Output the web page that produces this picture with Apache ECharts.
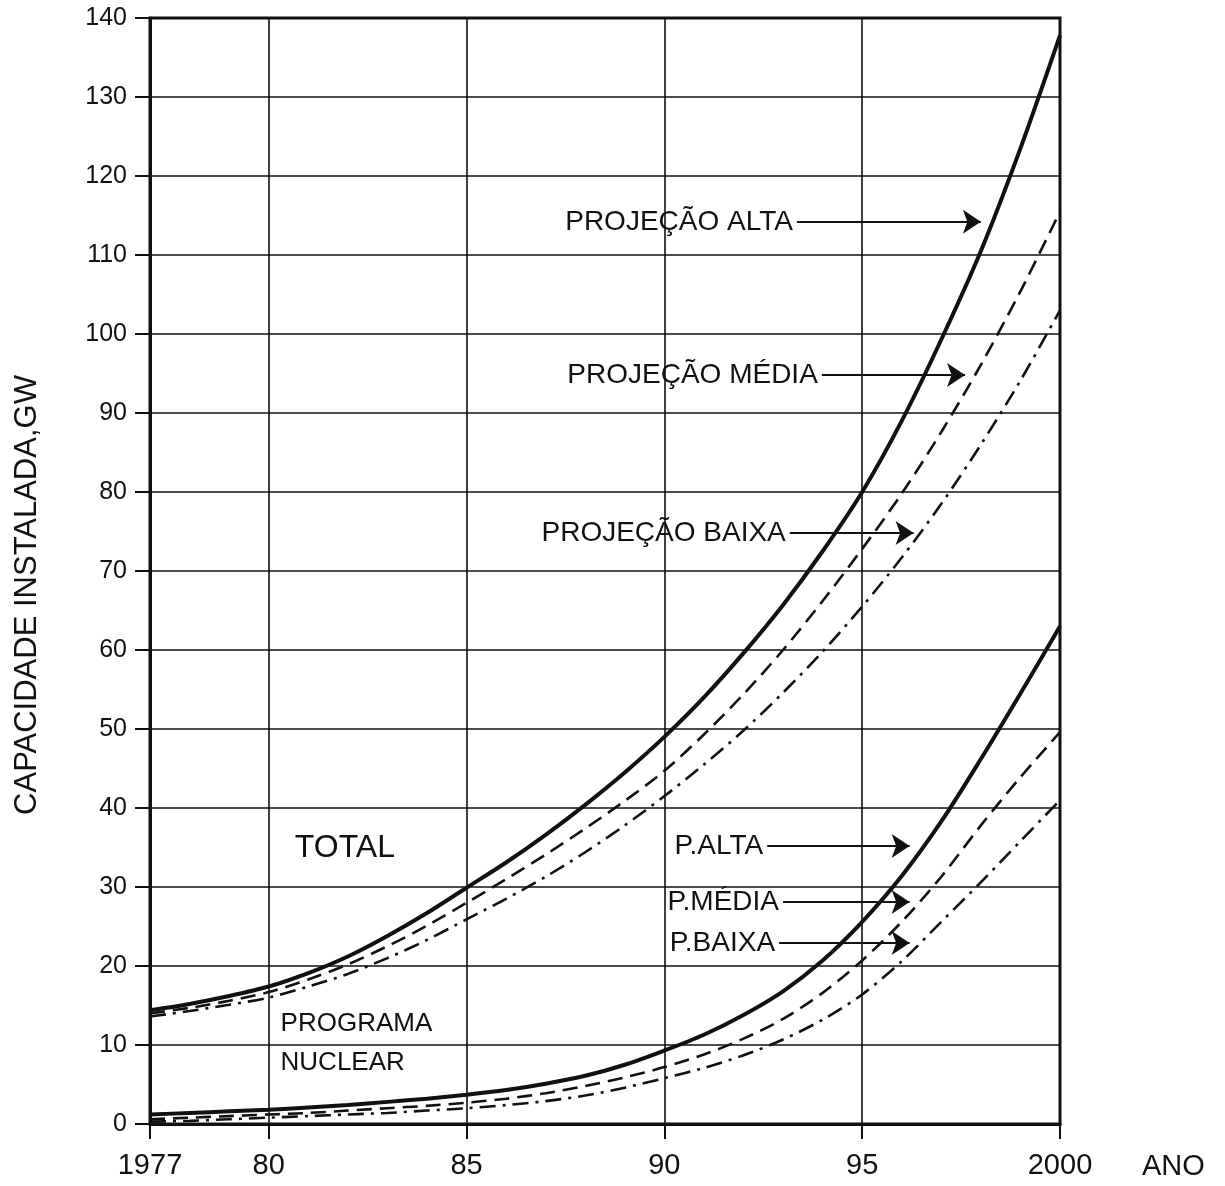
<!DOCTYPE html>
<html><head><meta charset="utf-8">
<script src="https://cdn.jsdelivr.net/npm/echarts@6/dist/echarts.min.js"></script>
<style>html,body{margin:0;padding:0;background:#fff}#c{width:1225px;height:1186px}</style>
</head><body><div id="c"></div>
<script>
// ---- data ----
const years = [1977,1978,1979,1980,1981,1982,1983,1984,1985,1986,1987,1988,1989,1990,1991,1992,1993,1994,1995,1996,1997,1998,1999,2000];
// TOTAL (GW)
const totalAlta  = [14.4,15.2,16.2,17.4,19.1,21.2,23.8,26.7,29.9,33.1,36.6,40.4,44.5,49.0,54.0,59.6,65.7,72.5,80.0,89.0,99.3,110.5,123.5,137.8];
const totalMedia = [14.0,14.7,15.6,16.7,18.3,20.2,22.5,25.1,28.0,31.0,34.1,37.4,40.9,44.7,49.3,54.4,60.0,66.2,72.8,79.8,87.6,96.1,105.4,115.5];
const totalBaixa = [13.6,14.3,15.1,16.0,17.4,19.0,21.0,23.3,25.9,28.5,31.3,34.4,37.8,41.5,45.5,49.8,54.6,59.8,65.5,71.7,78.5,86.0,94.1,103.0];
// PROGRAMA NUCLEAR (GW)
const nuclearAlta  = [1.2,1.4,1.6,1.8,2.1,2.4,2.8,3.2,3.7,4.3,5.1,6.1,7.5,9.3,11.3,13.8,16.8,20.7,25.6,31.4,38.3,46.2,54.5,63.0];
const nuclearMedia = [0.6,0.8,1.0,1.2,1.4,1.7,2.0,2.3,2.7,3.2,3.9,4.8,5.9,7.2,8.8,10.8,13.3,16.6,20.7,25.6,31.3,37.8,43.9,49.6];
const nuclearBaixa = [0.3,0.4,0.6,0.8,1.0,1.2,1.4,1.7,2.0,2.4,2.9,3.6,4.6,5.8,7.1,8.7,10.7,13.2,16.4,20.6,25.6,30.6,35.8,41.0];
// axis ticks
const xTickValues = [1977,1980,1985,1990,1995,2000];
const xTickLabels = ['1977','80','85','90','95','2000'];
const yMin = 0, yMax = 140, yStep = 10;

const INK = '#111';
const FONT = '"Liberation Sans", Arial, sans-serif';
const pairs = vals => years.map((y,i)=>[y, vals[i]]);

function arrow(label, y, x0, x1){
  return [
    {coord:[x0,y], symbol:'none', label:{formatter:label}},
    {coord:[x1,y], symbol:'arrow'}
  ];
}
function note(text, x, y, size){
  return {coord:[x,y], symbol:'circle', symbolSize:0,
    label:{show:true, formatter:text, position:'right', distance:0, fontSize:size, color:INK, fontFamily:FONT}};
}

const solid = {type:'solid', width:4, color:INK};
const dashed = {type:[15,8], width:2.6, color:INK};
const dashDot = {type:[16,7,3,7], width:2.6, color:INK};

function line(name, vals, style, extra){
  return Object.assign({
    name, type:'line', data:pairs(vals), smooth:0.3,
    showSymbol:false, symbol:'none', lineStyle:style, silent:true, z:3
  }, extra||{});
}

const chart = echarts.init(document.getElementById('c'), null, {renderer:'canvas'});
chart.setOption({
  animation:false,
  backgroundColor:'#fff',
  grid:{left:150, right:165, top:18, bottom:62, show:true, borderColor:INK, borderWidth:3, backgroundColor:'transparent'},
  xAxis:{
    type:'value', min:1977, max:2000,
    name:'ANO', nameLocation:'end', nameGap:82,
    nameTextStyle:{fontSize:29, color:INK, fontFamily:FONT, verticalAlign:'top', padding:[28,0,0,0]},
    axisLine:{show:true, onZero:false, lineStyle:{color:INK, width:3}},
    axisTick:{show:true, length:15, customValues:xTickValues, lineStyle:{color:INK, width:2}},
    axisLabel:{customValues:xTickValues, fontSize:29, color:INK, fontFamily:FONT, margin:27,
      formatter:v=>xTickLabels[xTickValues.indexOf(v)]},
    splitLine:{show:true, lineStyle:{color:INK, width:1.6}}
  },
  yAxis:{
    type:'value', min:yMin, max:yMax, interval:yStep,
    axisLine:{show:true, lineStyle:{color:INK, width:3}},
    axisTick:{show:true, length:15, lineStyle:{color:INK, width:2}},
    axisLabel:{fontSize:25, color:INK, fontFamily:FONT, margin:23},
    splitLine:{show:true, lineStyle:{color:INK, width:1.6}}
  },
  graphic:[{
    type:'text', x:27, y:595, rotation:Math.PI/2,
    style:{text:'CAPACIDADE INSTALADA,GW', fill:INK, font:'31px "Liberation Sans", Arial, sans-serif', align:'center', verticalAlign:'middle'}
  }],
  series:[
    line('Total alta', totalAlta, solid, {
      markLine:{
        silent:true, animation:false, symbolSize:18,
        lineStyle:{type:'solid', color:INK, width:1.8},
        label:{show:true, position:'start', distance:4, fontSize:28, color:INK, fontFamily:FONT},
        data:[
          arrow('PROJEÇÃO ALTA', 114.2, 1993.35, 1998.0),
          arrow('PROJEÇÃO MÉDIA', 94.8, 1993.98, 1997.6),
          arrow('PROJEÇÃO BAIXA', 74.8, 1993.17, 1996.3),
          arrow('P.ALTA', 35.2, 1992.6, 1996.2),
          arrow('P.MÉDIA', 28.1, 1993.0, 1996.2),
          arrow('P.BAIXA', 22.9, 1992.9, 1996.2)
        ]
      },
      markPoint:{
        silent:true, animation:false,
        data:[
          note('TOTAL', 1980.66, 34.9, 32),
          note('PROGRAMA', 1980.3, 12.7, 26),
          note('NUCLEAR', 1980.3, 7.7, 26)
        ]
      }
    }),
    line('Total média', totalMedia, dashed),
    line('Total baixa', totalBaixa, dashDot),
    line('Nuclear alta', nuclearAlta, solid),
    line('Nuclear média', nuclearMedia, dashed),
    line('Nuclear baixa', nuclearBaixa, dashDot)
  ]
});
</script>
</body></html>
